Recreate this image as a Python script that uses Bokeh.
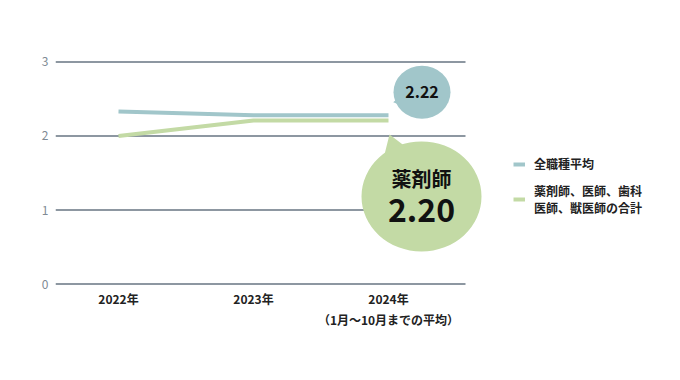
from bokeh.plotting import figure
from bokeh.models import Legend, LegendItem, FixedTicker
from bokeh.core.properties import value
from bokeh.embed import file_html
from bokeh.resources import INLINE

# ---- data ----
years = ["2022年", "2023年", "2024年\n（1月～10月までの平均）"]
all_jobs = [2.33, 2.28, 2.28]          # 全職種平均
medical = [2.00, 2.21, 2.21]           # 薬剤師、医師、歯科医師、獣医師の合計
y_ticks = [0, 1, 2, 3]
series_names = ["全職種平均", "薬剤師、医師、歯科\n医師、獣医師の合計"]
bubble_all = "2.22"
bubble_med_title = "薬剤師"
bubble_med_value = "2.20"

FONT = "Noto Sans CJK JP"
BLUE = "#a1c6ca"
GREEN = "#c3daa5"
GRID = "#8d97a1"

xs = list(range(len(years)))

# pixel scale helpers (px per data unit)
PX_X = 135.0
PX_Y = 74.0
LEFT = 55
x_start = -63.0 / PX_X
x_end = x_start + (664 - LEFT) / PX_X
y_start, y_end = -0.1, 3.1

p = figure(width=664, height=364, output_backend="svg", toolbar_location=None,
           x_range=(x_start, x_end), y_range=(y_start, y_end),
           min_border_left=LEFT, min_border_right=0, min_border_top=54,
           min_border_bottom=73, outline_line_color=None,
           background_fill_color="white", border_fill_color="white")
p.xgrid.visible = False
p.ygrid.visible = False

# gridlines (stop short of the legend)
grid_x1 = x_start
grid_x2 = 347.0 / PX_X
p.segment(x0=[grid_x1] * len(y_ticks), y0=y_ticks, x1=[grid_x2] * len(y_ticks), y1=y_ticks,
          line_color=GRID, line_width=2)

# axes
p.yaxis.ticker = FixedTicker(ticks=y_ticks)
p.yaxis.axis_line_color = None
p.yaxis.major_tick_line_color = None
p.yaxis.minor_tick_line_color = None
p.yaxis.major_tick_out = 0
p.yaxis.major_tick_in = 0
p.yaxis.major_label_standoff = 7
p.yaxis.major_label_text_font = FONT
p.yaxis.major_label_text_font_size = "12px"
p.yaxis.major_label_text_color = "#808a94"

p.xaxis.ticker = FixedTicker(ticks=xs)
p.xaxis.major_label_overrides = {i: lab for i, lab in zip(xs, years)}
p.xaxis.axis_line_color = None
p.xaxis.major_tick_line_color = None
p.xaxis.minor_tick_line_color = None
p.xaxis.major_tick_out = 0
p.xaxis.major_tick_in = 0
p.xaxis.major_label_standoff = -2
p.xaxis.major_label_text_font = FONT
p.xaxis.major_label_text_font_size = "12px"
p.xaxis.major_label_text_font_style = "bold"
p.xaxis.major_label_text_color = "#222222"
p.xaxis.major_label_text_line_height = 1.25

# lines
r1 = p.line(xs, all_jobs, line_color=BLUE, line_width=4)
r2 = p.line(xs, medical, line_color=GREEN, line_width=4)

# bubbles anchored at last data points
lx = xs[-1]
def dx(px):
    return px / PX_X
def dy(px):
    return -px / PX_Y  # positive px = downwards on screen

# blue bubble
bx, by = lx + dx(33.5), all_jobs[-1] + dy(-23)
p.patch([lx + dx(4.7), lx + dx(14), lx + dx(20)],
        [all_jobs[-1] + dy(-13), all_jobs[-1] + dy(-21), all_jobs[-1] + dy(-7)],
        fill_color=BLUE, line_color=None)
p.ellipse(x=[bx], y=[by], width=dx(57), height=-dy(53), fill_color=BLUE, line_color=None)
p.text(x=[bx], y=[by], text=[bubble_all], text_align="center", text_baseline="middle",
       text_font=value(FONT), text_font_style="bold", text_font_size="16px", text_color="#111111")

# green bubble
gx, gy = lx + dx(33), medical[-1] + dy(76)
p.patch([lx + dx(1), lx + dx(-6), lx + dx(22)],
        [medical[-1] + dy(14), medical[-1] + dy(42), medical[-1] + dy(30)],
        fill_color=GREEN, line_color=None)
p.ellipse(x=[gx], y=[gy], width=dx(120), height=-dy(110), fill_color=GREEN, line_color=None)
p.text(x=[gx], y=[gy + dy(-18)], text=[bubble_med_title], text_align="center", text_baseline="middle",
       text_font=value(FONT), text_font_style="bold", text_font_size="20px", text_color="#111111")
p.text(x=[gx], y=[gy + dy(14)], text=[bubble_med_value], text_align="center", text_baseline="middle",
       text_font=value(FONT), text_font_style="bold", text_font_size="32px", text_color="#111111")

# legend
legend = Legend(items=[LegendItem(label=series_names[0], renderers=[r1]),
                       LegendItem(label=series_names[1], renderers=[r2])],
                location=(458, 75), orientation="vertical",
                background_fill_alpha=0, border_line_color=None,
                label_text_font=FONT, label_text_font_size="12px",
                label_text_font_style="bold", label_text_color="#222222",
                glyph_width=12, glyph_height=14, label_standoff=9,
                spacing=10, padding=0, margin=0, label_text_line_height=2.0)
p.add_layout(legend)

open("out.html", "w").write(file_html(p, INLINE))
